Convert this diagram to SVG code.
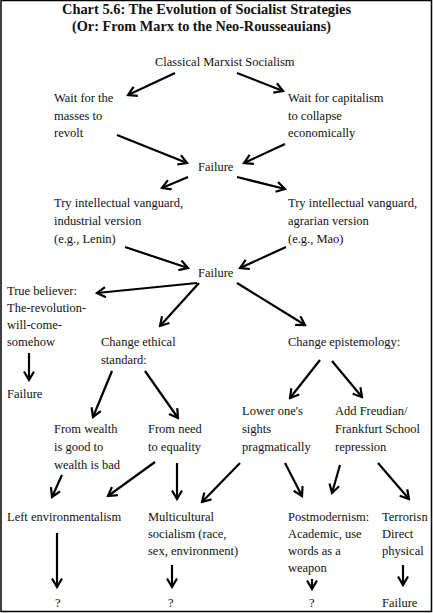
<svg xmlns="http://www.w3.org/2000/svg" width="433" height="613" viewBox="0 0 433 613">
<style>
text{font-family:"Liberation Serif","Times New Roman",serif;font-size:12.5px;fill:#111}
.title{font-weight:bold;font-size:14.5px}
.c line{stroke:#000;stroke-width:2.2;marker-end:url(#ah)}
</style>
<defs>
<marker id="ah" viewBox="0 0 12 12" refX="10" refY="6" markerWidth="12" markerHeight="12" orient="auto" markerUnits="userSpaceOnUse">
<path d="M1.5,1 L10,6 L1.5,11" fill="none" stroke="#000" stroke-width="2.2" stroke-linejoin="miter"/>
</marker>
</defs>
<rect x="0" y="0" width="433" height="613" fill="#fff"/>
<rect x="1" y="0.5" width="430.5" height="611" fill="none" stroke="#000" stroke-width="1.5"/>
<g id="title">
<text class="title" x="62" y="14" textLength="289" lengthAdjust="spacingAndGlyphs">Chart 5.6: The Evolution of Socialist Strategies</text>
<text class="title" x="72" y="31" textLength="259" lengthAdjust="spacingAndGlyphs">(Or: From Marx to the Neo-Rousseauians)</text>
</g>
<g id="n-classical"><text x="155" y="66">Classical Marxist Socialism</text></g>
<g id="n-masses"><text x="54" y="102">Wait for the</text><text x="54" y="120">masses to</text><text x="54" y="137">revolt</text></g>
<g id="n-capitalism"><text x="288" y="102">Wait for capitalism</text><text x="288" y="120">to collapse</text><text x="288" y="137">economically</text></g>
<g id="n-failure1"><text x="198" y="171">Failure</text></g>
<g id="n-lenin"><text x="54" y="207">Try intellectual vanguard,</text><text x="54" y="225">industrial version</text><text x="54" y="243">(e.g., Lenin)</text></g>
<g id="n-mao"><text x="288" y="207">Try intellectual vanguard,</text><text x="288" y="225">agrarian version</text><text x="288" y="243">(e.g., Mao)</text></g>
<g id="n-failure2"><text x="198" y="277">Failure</text></g>
<g id="n-truebeliever"><text x="7" y="295">True believer:</text><text x="7" y="312">The-revolution-</text><text x="7" y="329">will-come-</text><text x="7" y="346">somehow</text></g>
<g id="n-failure3"><text x="7" y="398">Failure</text></g>
<g id="n-ethical"><text x="101" y="346">Change ethical</text><text x="101" y="364">standard:</text></g>
<g id="n-epistemology"><text x="288" y="346">Change epistemology:</text></g>
<g id="n-wealth"><text x="54" y="433">From wealth</text><text x="54" y="451">is good to</text><text x="54" y="469">wealth is bad</text></g>
<g id="n-need"><text x="148" y="433">From need</text><text x="148" y="451">to equality</text></g>
<g id="n-lower"><text x="242" y="415">Lower one's</text><text x="242" y="433">sights</text><text x="242" y="451">pragmatically</text></g>
<g id="n-freudian"><text x="335" y="415">Add Freudian/</text><text x="335" y="433">Frankfurt School</text><text x="335" y="451">repression</text></g>
<g id="n-leftenv"><text x="7" y="521">Left environmentalism</text></g>
<g id="n-multicultural"><text x="148" y="521">Multicultural</text><text x="148" y="538">socialism (race,</text><text x="148" y="555">sex, environment)</text></g>
<g id="n-postmodernism"><text x="288" y="521">Postmodernism:</text><text x="288" y="538">Academic, use</text><text x="288" y="555">words as a</text><text x="288" y="572">weapon</text></g>
<g id="n-terrorism"><text x="382" y="521">Terrorisn</text><text x="382" y="538">Direct</text><text x="382" y="555">physical</text></g>
<g id="n-q1"><text x="55" y="607">?</text></g>
<g id="n-q2"><text x="168" y="607">?</text></g>
<g id="n-q3"><text x="309" y="607">?</text></g>
<g id="n-failure4"><text x="382" y="607">Failure</text></g>
<g id="connectors" class="c">
<line x1="175" y1="73" x2="128" y2="95"/>
<line x1="237" y1="73" x2="283" y2="91"/>
<line x1="117" y1="135" x2="187" y2="163"/>
<line x1="285" y1="144" x2="244" y2="163"/>
<line x1="188" y1="177" x2="162" y2="188"/>
<line x1="237" y1="177" x2="285" y2="189"/>
<line x1="125" y1="247" x2="188" y2="268"/>
<line x1="286" y1="247" x2="240" y2="268"/>
<line x1="197" y1="283" x2="97" y2="293"/>
<line x1="199" y1="283" x2="160" y2="326"/>
<line x1="237" y1="283" x2="305" y2="325"/>
<line x1="29" y1="353" x2="29" y2="380"/>
<line x1="112" y1="371" x2="93" y2="417"/>
<line x1="145" y1="371" x2="178" y2="418"/>
<line x1="320" y1="360" x2="290" y2="398"/>
<line x1="332" y1="361" x2="362" y2="397"/>
<line x1="62" y1="475" x2="52" y2="497"/>
<line x1="155" y1="462" x2="108" y2="496"/>
<line x1="177" y1="463" x2="177" y2="499"/>
<line x1="240" y1="463" x2="202" y2="502"/>
<line x1="285" y1="463" x2="302" y2="496"/>
<line x1="340" y1="465" x2="332" y2="493"/>
<line x1="378" y1="463" x2="409" y2="499"/>
<line x1="57" y1="533" x2="57" y2="587"/>
<line x1="172" y1="565" x2="172" y2="587"/>
<line x1="312" y1="579" x2="312" y2="589"/>
<line x1="403" y1="565" x2="403" y2="585"/>
</g>
</svg>
